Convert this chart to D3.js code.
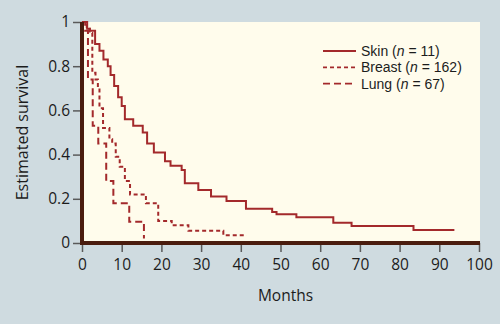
<!DOCTYPE html>
<html>
<head>
<meta charset="utf-8">
<script src="https://cdn.jsdelivr.net/npm/d3@7"></script>
<style>
  html, body { margin: 0; padding: 0; background: #cfdbe0; }
  svg { display: block; font-family: "Open Sans", sans-serif; }
</style>
</head>
<body>
<div class="container"></div>
<script>
// Kaplan-Meier steps, month of each drop and survival after it
const skinMonths = [0, 1.3, 2, 3.3, 4.4, 5.4, 6.5, 7.2, 8.1, 9.1, 10, 10.8, 12.9, 15.3, 16.4, 18.1, 20.9, 22.3, 25.1, 25.9, 29.3, 32.5, 36.4, 41.3, 47.9, 49, 54, 63.3, 67.9, 83.5];
const skinSurv   = [1, 0.97, 0.96, 0.9, 0.87, 0.83, 0.8, 0.76, 0.71, 0.66, 0.62, 0.56, 0.53, 0.5, 0.45, 0.41, 0.37, 0.35, 0.33, 0.27, 0.24, 0.21, 0.19, 0.155, 0.14, 0.13, 0.116, 0.092, 0.077, 0.059];
const skinEnd = 93.8;

const breastMonths = [0, 1.2, 1.9, 2.6, 3.4, 4.0, 4.4, 5.3, 6.9, 7.6, 8.5, 9.5, 10.8, 12.1, 16.1, 19.2, 22.6, 26.8, 35.6];
const breastSurv   = [1, 0.97, 0.95, 0.77, 0.74, 0.7, 0.61, 0.52, 0.47, 0.45, 0.39, 0.345, 0.28, 0.22, 0.18, 0.1, 0.08, 0.055, 0.035];
const breastEnd = 41.5;

const lungMonths = [0, 0.8, 1.5, 2.7, 4.1, 6.1, 7.9, 11.9, 15.6];
const lungSurv   = [1, 0.96, 0.74, 0.53, 0.45, 0.28, 0.18, 0.096, 0.02];
const lungEnd = 15.6;

const xTicks = [0, 10, 20, 30, 40, 50, 60, 70, 80, 90, 100];
const yTicks = [0, 0.2, 0.4, 0.6, 0.8, 1];

const series = [
  { label: "Skin", n: 11, months: skinMonths, surv: skinSurv, end: skinEnd, dash: null },
  { label: "Breast", n: 162, months: breastMonths, surv: breastSurv, end: breastEnd, dash: "4,3" },
  { label: "Lung", n: 67, months: lungMonths, surv: lungSurv, end: lungEnd, dash: "7,4" }
];

const width = 500, height = 324;
const plotLeft = 82, plotRight = 479, plotTop = 22, plotBottom = 243;
const lineColor = "#a3292b";
const axisColor = "#4a1c0e";
const textColor = "#1c1c1c";

const x = d3.scaleLinear().domain([0, 100]).range([plotLeft, plotRight]);
const y = d3.scaleLinear().domain([0, 1]).range([plotBottom, plotTop]);

const svg = d3.select(".container").append("svg")
  .attr("width", width)
  .attr("height", height);

svg.append("rect")
  .attr("x", plotLeft).attr("y", plotTop)
  .attr("width", plotRight + 1 - plotLeft).attr("height", plotBottom - plotTop)
  .attr("fill", "#fffcec");

const xAxis = d3.axisBottom(x).tickValues(xTicks).tickFormat(d3.format("d")).tickSize(9).tickPadding(7);
const yAxis = d3.axisLeft(y).tickValues(yTicks).tickFormat(d => d === 0 || d === 1 ? d : d.toFixed(1)).tickSize(9).tickPadding(3);

const gx = svg.append("g").attr("transform", `translate(0,${plotBottom})`).call(xAxis);
const gy = svg.append("g").attr("transform", `translate(${plotLeft},0)`).call(yAxis);

[gx, gy].forEach(g => {
  g.select(".domain").remove();
  g.selectAll(".tick line").attr("stroke", "#5a5a5a").attr("stroke-width", 1.5);
  g.selectAll(".tick text").attr("fill", textColor).style("font-size", "15.5px").style("font-family", "'Open Sans', sans-serif");
});

// survival curves
const line = d3.line().x(d => x(d[0])).y(d => y(d[1])).curve(d3.curveStepAfter);

series.forEach(s => {
  const pts = s.months.map((m, i) => [m, s.surv[i]]);
  pts.push([s.end, s.surv[s.surv.length - 1]]);
  svg.append("path")
    .attr("d", line(pts))
    .attr("fill", "none")
    .attr("stroke", lineColor)
    .attr("stroke-width", 2)
    .attr("stroke-dasharray", s.dash);
});

// thick axis lines
svg.append("line")
  .attr("x1", plotLeft).attr("x2", plotRight + 1)
  .attr("y1", plotBottom).attr("y2", plotBottom)
  .attr("stroke", axisColor).attr("stroke-width", 4);
svg.append("line")
  .attr("x1", plotLeft).attr("x2", plotLeft)
  .attr("y1", plotTop).attr("y2", plotBottom + 2)
  .attr("stroke", axisColor).attr("stroke-width", 4);

// axis titles
svg.append("text")
  .attr("x", x(50) + 5).attr("y", 301)
  .attr("text-anchor", "middle")
  .attr("fill", textColor)
  .style("font-size", "15.5px")
  .text("Months");

svg.append("text")
  .attr("transform", `translate(28,${(plotTop + plotBottom) / 2}) rotate(-90)`)
  .attr("text-anchor", "middle")
  .attr("fill", textColor)
  .style("font-size", "16px")
  .text("Estimated survival");

// legend, one text per row with the italic n as a tspan
const legend = svg.append("g").attr("transform", "translate(323,51)");
series.forEach((s, i) => {
  const row = legend.append("g").attr("transform", `translate(0,${i * 16.3})`);
  row.append("line")
    .attr("x1", 0).attr("x2", 33)
    .attr("y1", 0).attr("y2", 0)
    .attr("stroke", lineColor)
    .attr("stroke-width", 1.8)
    .attr("stroke-dasharray", s.dash);
  const t = row.append("text")
    .attr("x", 38).attr("y", 5)
    .attr("fill", textColor)
    .style("font-family", "'Liberation Sans', sans-serif")
    .style("font-size", "14px");
  t.append("tspan").text(s.label + " (");
  t.append("tspan").style("font-style", "italic").text("n");
  t.append("tspan").text(" = " + s.n + ")");
});
</script>
</body>
</html>
